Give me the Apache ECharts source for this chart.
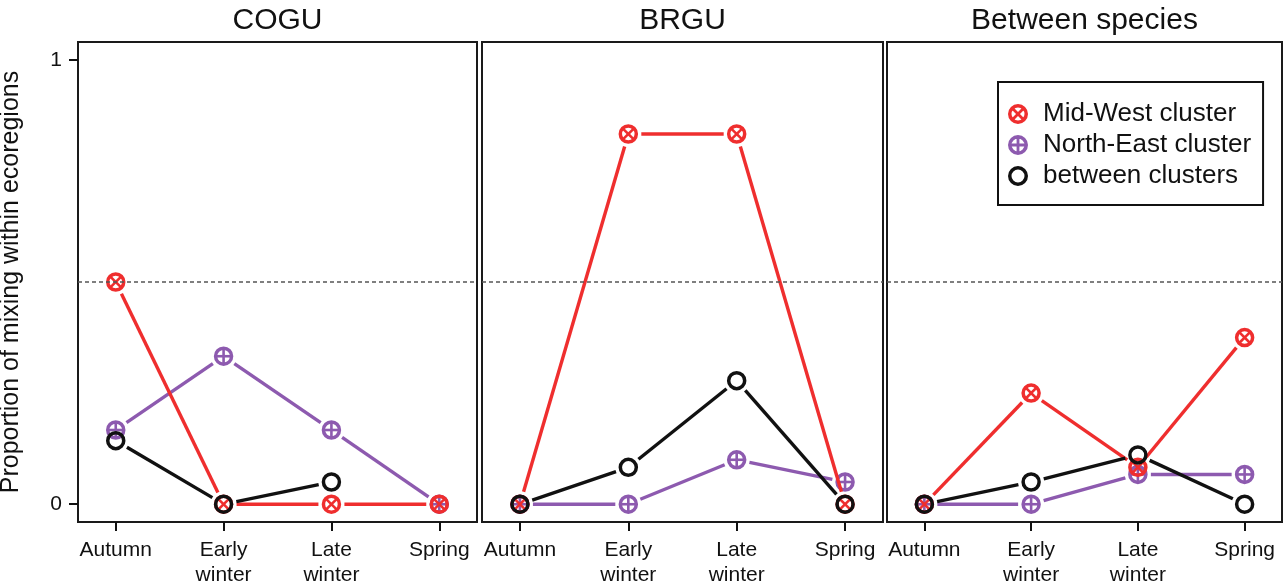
<!DOCTYPE html>
<html>
<head>
<meta charset="utf-8">
<script src="https://cdn.jsdelivr.net/npm/echarts@6/dist/echarts.min.js"></script>
<style>
  html, body { margin: 0; padding: 0; background: #fff; }
  #chart { width: 1285px; height: 587px; }
</style>
</head>
<body>
<div id="chart"></div>
<script>
// three-panel R-style plot: mixing proportion by season, per species and between species

const seasons = ['Autumn', 'Early\nwinter', 'Late\nwinter', 'Spring'];
const panelTitles = ['COGU', 'BRGU', 'Between species'];
const groupNames = ['Mid-West cluster', 'North-East cluster', 'between clusters'];

// values, one entry per season (null = not plotted)
const coguMidWest = [0.5, 0, 0, 0];
const coguNorthEast = [0.167, 0.333, 0.167, 0];
const coguBetween = [0.143, 0, 0.05, null];

const brguMidWest = [0, 0.833, 0.833, 0];
const brguNorthEast = [0, 0, 0.1, 0.05];
const brguBetween = [0, 0.083, 0.278, 0];

const speciesMidWest = [0, 0.25, 0.083, 0.375];
const speciesNorthEast = [0, 0, 0.067, 0.067];
const speciesBetween = [0, 0.05, 0.111, 0];

const yTicks = [0, 1];
const refLevel = 0.5;

const RED = '#ef2e2e';
const PURPLE = '#8d5aaf';
const BLACK = '#111111';
const FONT = '"Liberation Sans", Arial, Helvetica, sans-serif';

const GAP = 13;   // R type="b": segments stop short of the points
const R_MARK = 8;

// ---- legend icons (ring + cross, drawn as filled paths) ----
const RING = 'M0,10 A10,10 0 1,1 20,10 A10,10 0 1,1 0,10 Z M3.5,10 A6.5,6.5 0 1,0 16.5,10 A6.5,6.5 0 1,0 3.5,10 Z';
const PLUS_PTS = [[8.6,0.6],[11.4,0.6],[11.4,8.6],[19.4,8.6],[19.4,11.4],[11.4,11.4],
  [11.4,19.4],[8.6,19.4],[8.6,11.4],[0.6,11.4],[0.6,8.6],[8.6,8.6]];
const rot = (pts, deg) => {
  const a = deg * Math.PI / 180, c = Math.cos(a), s = Math.sin(a);
  return pts.map(([x, y]) => [10 + (x - 10) * c - (y - 10) * s, 10 + (x - 10) * s + (y - 10) * c]);
};
const poly = (pts) => 'M' + pts.map(p => p[0].toFixed(2) + ',' + p[1].toFixed(2)).join(' L') + ' Z';
const ICONS = {
  x: 'path://' + RING + ' ' + poly(rot(PLUS_PTS, 45)),
  plus: 'path://' + RING + ' ' + poly(PLUS_PTS),
  ring: 'path://' + RING,
};

// ---- panel layout ----
const GRIDS = [
  { left: 78, top: 42, width: 399, height: 480 },
  { left: 482, top: 42, width: 401, height: 480 },
  { left: 887, top: 42, width: 395, height: 480 },
];

function markerShapes(kind, x, y, color) {
  const out = [{
    type: 'circle', shape: { cx: x, cy: y, r: R_MARK },
    style: { fill: 'none', stroke: color, lineWidth: 3.5 },
  }];
  const d = R_MARK * Math.SQRT1_2;
  const cross = { stroke: color, lineWidth: 2.6 };
  if (kind === 'plus') {
    out.push({ type: 'line', shape: { x1: x, y1: y - R_MARK, x2: x, y2: y + R_MARK }, style: cross });
    out.push({ type: 'line', shape: { x1: x - R_MARK, y1: y, x2: x + R_MARK, y2: y }, style: cross });
  } else if (kind === 'x') {
    out.push({ type: 'line', shape: { x1: x - d, y1: y - d, x2: x + d, y2: y + d }, style: cross });
    out.push({ type: 'line', shape: { x1: x + d, y1: y - d, x2: x - d, y2: y + d }, style: cross });
  }
  return out;
}

// each data item draws its marker and the (gapped) segment to the next season
function makeSeries(name, vals, kind, color, panel, withRef) {
  const s = {
    name, type: 'custom', xAxisIndex: panel, yAxisIndex: panel,
    itemStyle: { color },
    data: vals.map((v, i) => (v == null ? null : [i, v])).filter(Boolean),
    renderItem(params, api) {
      const i = api.value(0);
      const p = api.coord([i, api.value(1)]);
      const kids = [];
      const nv = vals[i + 1];
      if (i + 1 < vals.length && nv != null) {
        const q = api.coord([i + 1, nv]);
        const dx = q[0] - p[0], dy = q[1] - p[1], len = Math.hypot(dx, dy);
        if (len > 2 * GAP) {
          const ux = dx / len, uy = dy / len;
          kids.push({
            type: 'line',
            shape: { x1: p[0] + ux * GAP, y1: p[1] + uy * GAP, x2: q[0] - ux * GAP, y2: q[1] - uy * GAP },
            style: { stroke: color, lineWidth: 3.4 },
          });
        }
      }
      return { type: 'group', children: kids.concat(markerShapes(kind, p[0], p[1], color)) };
    },
  };
  if (withRef) {
    s.markLine = {
      silent: true, symbol: 'none', label: { show: false },
      lineStyle: { color: '#555', type: [4, 3], width: 1.5 },
      data: [{ yAxis: refLevel }],
    };
  }
  return s;
}

const panelData = [
  [coguMidWest, coguNorthEast, coguBetween],
  [brguMidWest, brguNorthEast, brguBetween],
  [speciesMidWest, speciesNorthEast, speciesBetween],
];

const series = [];
panelData.forEach(([mw, ne, bc], k) => {
  // draw order as in the original: purple, red, black on top
  series.push(makeSeries(groupNames[1], ne, 'plus', PURPLE, k, true));
  series.push(makeSeries(groupNames[0], mw, 'x', RED, k, false));
  series.push(makeSeries(groupNames[2], bc, 'ring', BLACK, k, false));
});

const xAxes = GRIDS.map((g, k) => ({
  type: 'value', gridIndex: k, min: -0.35, max: 3.35, position: 'bottom',
  axisLine: { show: false, onZero: false }, splitLine: { show: false },
  axisTick: { show: true, inside: false, customValues: [0, 1, 2, 3], length: 9, lineStyle: { color: BLACK, width: 2 } },
  axisLabel: {
    customValues: [0, 1, 2, 3], formatter: (v) => seasons[Math.round(v)] || '',
    color: BLACK, fontFamily: FONT, fontSize: 21, lineHeight: 25, margin: 16,
  },
}));

const yAxes = GRIDS.map((g, k) => ({
  type: 'value', gridIndex: k, min: -0.04, max: 1.04, position: 'left',
  show: k === 0,
  axisLine: { show: false, onZero: false }, splitLine: { show: false },
  axisTick: { show: true, inside: false, customValues: yTicks, length: 9, lineStyle: { color: BLACK, width: 2 } },
  axisLabel: { customValues: yTicks, color: BLACK, fontFamily: FONT, fontSize: 21, margin: 16 },
  name: k === 0 ? 'Proportion of mixing within ecoregions' : '',
  nameLocation: 'middle', nameRotate: 90, nameGap: 54,
  nameTextStyle: { color: BLACK, fontFamily: FONT, fontSize: 25 },
}));

const chart = echarts.init(document.getElementById('chart'), null, { renderer: 'canvas' });
chart.setOption({
  animation: false,
  backgroundColor: '#fff',
  grid: GRIDS.map(g => ({ ...g, show: true, borderColor: '#1a1a1a', borderWidth: 2, backgroundColor: 'transparent', outerBoundsMode: 'none' })),
  xAxis: xAxes,
  yAxis: yAxes,
  legend: {
    left: 998, top: 82, orient: 'vertical',
    padding: [19, 12, 16, 10],
    borderColor: '#111', borderWidth: 2, backgroundColor: '#fff',
    itemWidth: 20, itemHeight: 20, itemGap: 5,
    textStyle: { color: BLACK, fontFamily: FONT, fontSize: 26, lineHeight: 20, padding: [0, 0, 0, 10] },
    data: [
      { name: groupNames[0], icon: ICONS.x },
      { name: groupNames[1], icon: ICONS.plus },
      { name: groupNames[2], icon: ICONS.ring },
    ],
    selectedMode: false,
  },
  graphic: panelTitles.map((t, k) => ({
    type: 'text', x: GRIDS[k].left + GRIDS[k].width / 2, y: 21,
    style: { text: t, fill: BLACK, font: '30px ' + FONT, align: 'center', verticalAlign: 'middle' },
  })),
  series,
});
</script>
</body>
</html>
